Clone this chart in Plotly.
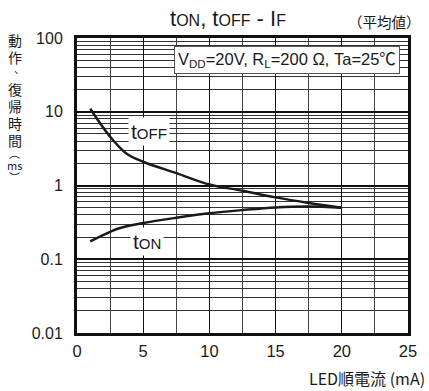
import plotly.graph_objects as go

# Data
if_off = [1, 2.5, 3.75, 5, 7.5, 10, 12.5, 15, 17.5, 20]
t_off = [11.0, 4.6, 2.7, 2.1, 1.47, 1.03, 0.85, 0.69, 0.58, 0.50]
if_on = [1, 2.5, 3.25, 5, 7.5, 10, 12.5, 15, 17.5, 20]
t_on = [0.175, 0.235, 0.265, 0.31, 0.365, 0.42, 0.465, 0.505, 0.52, 0.50]

x_ticks = [0, 5, 10, 15, 20, 25]
y_ticks = [0.01, 0.1, 1, 10, 100]
y_tick_text = ["0.01", "0.1", "1", "10", "100"]

FONT = "Liberation Sans, Noto Sans CJK JP, sans-serif"
CJK = "Noto Sans CJK JP, sans-serif"

# plot area in pixels (for placing outside texts)
L, R, T, B = 77, 411, 38, 333
def px(xp):
    return (xp - L) / (R - L)
def py(yp):
    return (B - yp) / (B - T)

fig = go.Figure()
fig.add_trace(go.Scatter(x=if_off, y=t_off, mode="lines",
                         line=dict(color="#1a1a1a", width=2.5, shape="spline"), showlegend=False,
                         hoverinfo="skip"))
fig.add_trace(go.Scatter(x=if_on, y=t_on, mode="lines",
                         line=dict(color="#1a1a1a", width=2.5, shape="spline"), showlegend=False,
                         hoverinfo="skip"))

fig.update_layout(
    width=429, height=391,
    margin=dict(l=L, r=429 - R, t=T, b=391 - B),
    paper_bgcolor="white", plot_bgcolor="white",
    font=dict(family=FONT, color="#1a1a1a", size=15),
    xaxis=dict(range=[0, 25], tickvals=x_ticks, ticks="", showgrid=True, gridcolor="#111", gridwidth=1,
               minor=dict(dtick=2.5, showgrid=True, gridcolor="#444", gridwidth=1),
               showline=True, linecolor="#111", linewidth=3, mirror=True, zeroline=False,
               tickfont=dict(size=16.5), ticklabelstandoff=1),
    yaxis=dict(type="log", range=[-2, 2], tickvals=y_ticks, ticktext=y_tick_text, ticks="",
               showgrid=True, gridcolor="#111", gridwidth=1.5,
               minor=dict(dtick="D1", showgrid=True, gridcolor="#333", gridwidth=1),
               showline=True, linecolor="#111", linewidth=3, mirror=True, zeroline=False,
               tickfont=dict(size=16), ticklabelstandoff=8),
)

fig.add_annotation(x=5.4, y=0.73, xref="x", yref="y", text="t<span style='font-size:15px'>OFF</span>",
                   showarrow=False, bgcolor="white", font=dict(size=21), borderpad=2)
fig.add_annotation(x=5.3, y=-0.76, xref="x", yref="y", text="t<span style='font-size:15px'>ON</span>",
                   showarrow=False, bgcolor="white", font=dict(size=21), borderpad=2)
fig.add_annotation(x=15.87, y=1.70, xref="x", yref="y",
                   text="V<sub>DD</sub>=20V, R<sub>L</sub>=200 Ω, Ta=25℃",
                   showarrow=False, bgcolor="white", bordercolor="#555", borderwidth=1, borderpad=3,
                   font=dict(size=16.5))
fig.add_annotation(x=px(229), y=py(19), xref="paper", yref="paper",
                   text="t<span style='font-size:16px'>ON</span>, t<span style='font-size:16px'>OFF</span> - I<span style='font-size:16px'>F</span>",
                   showarrow=False, font=dict(size=22), xanchor="center", yanchor="middle")
fig.add_annotation(x=px(387), y=py(22), xref="paper", yref="paper", text="（平均値）",
                   showarrow=False, font=dict(size=14.5, family=CJK), xanchor="center", yanchor="middle")
fig.add_annotation(x=px(430), y=py(378), xref="paper", yref="paper", text="LED順電流 (mA)",
                   showarrow=False, font=dict(size=16, family=CJK), xanchor="right", yanchor="middle")

# vertical y-axis title, one glyph per row
ytitle = [("動", 14, 40, 14), ("作", 14, 57, 14), ("、", 19, 68, 11), ("復", 14, 89, 14),
          ("帰", 14, 106, 14), ("時", 14, 123, 14), ("間", 14, 140, 14),
          ("︵", 14, 153, 11), ("ms", 14, 165, 11), ("︶", 14, 177, 11)]
for ch, xp, yp, sz in ytitle:
    fig.add_annotation(x=px(xp), y=py(yp), xref="paper", yref="paper", text=ch,
                       showarrow=False, font=dict(size=sz, family=CJK), xanchor="center", yanchor="middle")

fig.write_html("out.html", config={"displayModeBar": False},
               post_script="document.body.style.margin='0';")
